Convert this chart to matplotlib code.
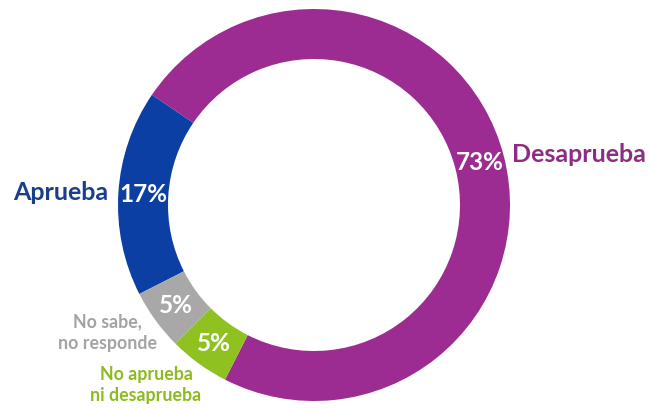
import matplotlib.pyplot as plt

plt.rcParams['font.family'] = ['Lato', 'DejaVu Sans']

# Approval survey results (percent)
categories = ['Desaprueba', 'Aprueba', 'No sabe,\nno responde', 'No aprueba\nni desaprueba']
values = [73, 17, 5, 5]
slice_colors = ['#9C2C92', '#0B3FA3', '#A8A8A8', '#8FC220']
label_colors = ['#8E2C85', '#1B3E8C', '#A3A3A3', '#8DBA1E']

W, H = 653, 409
fig = plt.figure(figsize=(W / 100, H / 100), dpi=100)
ax = fig.add_axes([0, 0, 1, 1])

cx, cy, r = 314, H - 205, 196
ring = 50

wedges, texts, autotexts = ax.pie(
    values, colors=slice_colors, startangle=243, counterclock=True,
    center=(cx, cy), radius=r, frame=True,
    wedgeprops=dict(width=ring, edgecolor='none'),
    autopct=lambda p: '{:.0f}%'.format(p), pctdistance=(r - ring / 2) / r,
    textprops=dict(color='white', fontsize=17.5, fontweight='bold'))
ax.set_xlim(0, W)
ax.set_ylim(0, H)
ax.set_aspect('equal')
ax.axis('off')

# category labels outside the ring
ax.text(512, H - 155, categories[0], color=label_colors[0], fontsize=18,
        fontweight='bold', ha='left', va='center')
ax.text(108, H - 193, categories[1], color=label_colors[1], fontsize=18,
        fontweight='bold', ha='right', va='center')
ax.text(107, H - 333, categories[2], color=label_colors[2], fontsize=12.8,
        fontweight='bold', ha='center', va='center', linespacing=1.35)
ax.text(146, H - 385, categories[3], color=label_colors[3], fontsize=12.8,
        fontweight='bold', ha='center', va='center', linespacing=1.35)

fig.savefig('out.png', dpi=100)
